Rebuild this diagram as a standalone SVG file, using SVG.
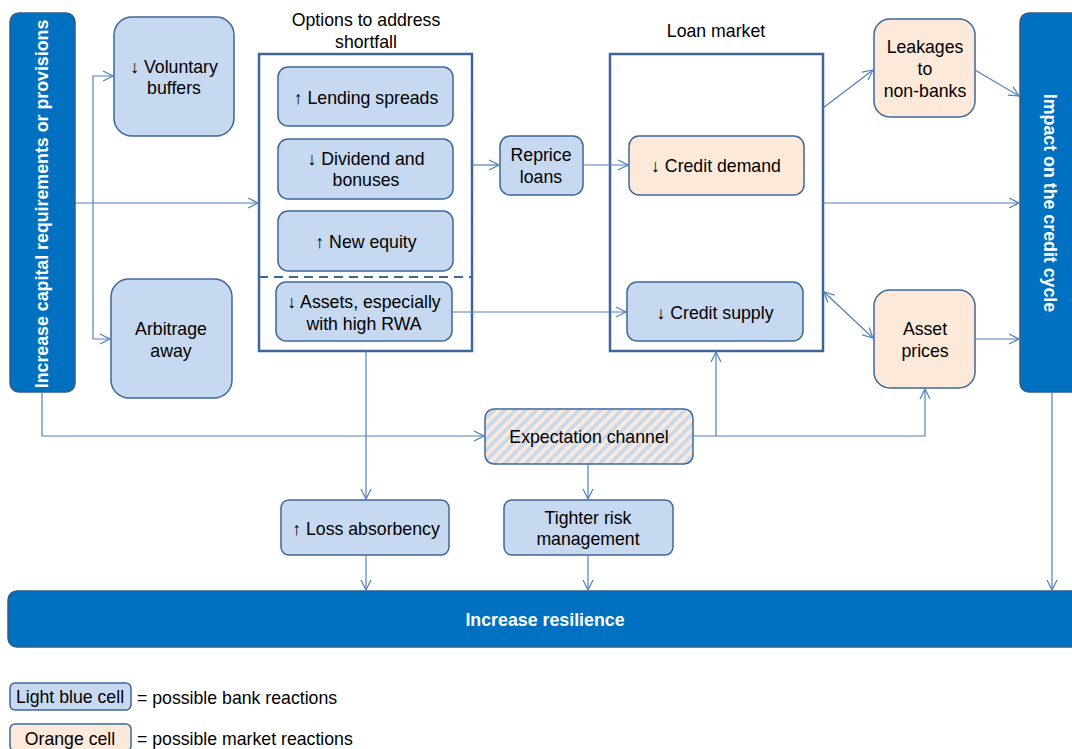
<svg xmlns="http://www.w3.org/2000/svg" width="1072" height="749" viewBox="0 0 1072 749">
<defs>
<marker id="ah" viewBox="0 0 12 12" refX="11" refY="6" markerWidth="12" markerHeight="12" markerUnits="userSpaceOnUse" orient="auto-start-reverse">
<path d="M1,1 L11,6 L1,11" fill="none" stroke="#4F81BD" stroke-width="1.2"/>
</marker>
<pattern id="hatch" patternUnits="userSpaceOnUse" width="7.5" height="7.5" patternTransform="rotate(45)">
<rect width="7.5" height="7.5" fill="#FDE9D9"/>
<rect width="3.6" height="7.5" fill="#C5D9F1"/>
</pattern>
<style>
.blue{fill:#C6D9F0;stroke:#3E6797;stroke-width:1.5}
.orange{fill:#FDE9D9;stroke:#3E6797;stroke-width:1.5}
.frame{fill:#fff;stroke:#3E6797;stroke-width:2.5}
.dark{fill:#0070C0;stroke:#2F5D8C;stroke-width:1.5}
.t{font-family:"Liberation Sans",Arial,sans-serif;font-size:17.7px;fill:#000;text-anchor:middle}
.w{font-family:"Liberation Sans",Arial,sans-serif;font-size:17.8px;font-weight:bold;fill:#fff;text-anchor:middle}
.c{fill:none;stroke:#4F81BD;stroke-width:1.2}
.l{font-family:"Liberation Sans",Arial,sans-serif;font-size:17.7px;fill:#000}
</style>
</defs>

<g id="left-bar"><rect class="dark" x="10" y="13" width="65" height="379" rx="9"/>
<text class="w" transform="translate(48,204) rotate(-90)">Increase capital requirements or provisions</text></g>

<g id="voluntary"><rect class="blue" x="114" y="17" width="120" height="119" rx="18"/>
<text class="t" x="174" y="73">↓ Voluntary</text><text class="t" x="174" y="94">buffers</text></g>

<g id="arbitrage"><rect class="blue" x="111" y="279" width="121" height="119" rx="18"/>
<text class="t" x="171" y="335">Arbitrage</text><text class="t" x="171" y="357">away</text></g>

<g id="options">
<text class="t" x="366" y="26">Options to address</text><text class="t" x="366" y="48">shortfall</text>
<rect class="frame" x="259" y="54" width="213" height="297"/>
<line x1="259" y1="277" x2="472" y2="277" stroke="#3E6797" stroke-width="2" stroke-dasharray="9,6"/>
</g>
<g id="lending"><rect class="blue" x="278" y="67" width="175" height="59" rx="10"/><text class="t" x="366" y="104">↑ Lending spreads</text></g>
<g id="dividend"><rect class="blue" x="278" y="139" width="175" height="60" rx="10"/><text class="t" x="366" y="165">↓ Dividend and</text><text class="t" x="366" y="186">bonuses</text></g>
<g id="equity"><rect class="blue" x="278" y="211" width="175" height="60" rx="10"/><text class="t" x="366" y="248">↑ New equity</text></g>
<g id="assets"><rect class="blue" x="276" y="282" width="176" height="59" rx="10"/><text class="t" x="364" y="308">↓ Assets, especially</text><text class="t" x="364" y="330">with high RWA</text></g>

<g id="reprice"><rect class="blue" x="500" y="136" width="83" height="59" rx="10"/><text class="t" x="541" y="161">Reprice</text><text class="t" x="541" y="183">loans</text></g>

<g id="loan-market">
<text class="t" x="716" y="37">Loan market</text>
<rect class="frame" x="610" y="54" width="213" height="297"/>
</g>
<g id="credit-demand"><rect class="orange" x="629" y="136" width="175" height="59" rx="10"/><text class="t" x="716" y="172">↓ Credit demand</text></g>
<g id="credit-supply"><rect class="blue" x="627" y="282" width="176" height="59" rx="10"/><text class="t" x="715" y="319">↓ Credit supply</text></g>

<g id="leakages"><rect class="orange" x="874" y="19" width="101" height="98" rx="16"/>
<text class="t" x="925" y="53">Leakages</text><text class="t" x="925" y="75">to</text><text class="t" x="925" y="97">non-banks</text></g>
<g id="asset-prices"><rect class="orange" x="874" y="290" width="101" height="98" rx="16"/>
<text class="t" x="925" y="335">Asset</text><text class="t" x="925" y="357">prices</text></g>

<g id="right-bar"><rect class="dark" x="1020" y="13" width="62" height="379" rx="9"/>
<text class="w" transform="translate(1044,203) rotate(90)">Impact on the credit cycle</text></g>

<g id="expectation"><rect x="485" y="409" width="208" height="55" rx="9" fill="url(#hatch)" stroke="#3E6797" stroke-width="1.5"/>
<text class="t" x="589" y="443">Expectation channel</text></g>

<g id="loss"><rect class="blue" x="281" y="500" width="168" height="55" rx="8"/><text class="t" x="366" y="535">↑ Loss absorbency</text></g>
<g id="tighter"><rect class="blue" x="504" y="500" width="169" height="55" rx="8"/><text class="t" x="588" y="524">Tighter risk</text><text class="t" x="588" y="545">management</text></g>

<g id="resilience"><rect class="dark" x="8" y="591" width="1074" height="56" rx="9"/>
<text class="w" x="545" y="626">Increase resilience</text></g>

<g id="connectors">
<path class="c" d="M75,203 H258" marker-end="url(#ah)"/>
<path class="c" d="M93,203 V76 H113" marker-end="url(#ah)"/>
<path class="c" d="M93,203 V339 H110" marker-end="url(#ah)"/>
<path class="c" d="M472,165 H499" marker-end="url(#ah)"/>
<path class="c" d="M583,165 H628" marker-end="url(#ah)"/>
<path class="c" d="M452,312 H626" marker-end="url(#ah)"/>
<path class="c" d="M823,108 L873,70" marker-end="url(#ah)"/>
<path class="c" d="M975,70 L1019,96" marker-end="url(#ah)"/>
<path class="c" d="M823,203 H1019" marker-end="url(#ah)"/>
<path class="c" d="M824,292 L873,338" marker-start="url(#ah)" marker-end="url(#ah)"/>
<path class="c" d="M975,339 H1019" marker-end="url(#ah)"/>
<path class="c" d="M42,392 V436 H484" marker-end="url(#ah)"/>
<path class="c" d="M693,436 H925 V389" marker-end="url(#ah)"/>
<path class="c" d="M716,436 V352" marker-end="url(#ah)"/>
<path class="c" d="M588,464 V499" marker-end="url(#ah)"/>
<path class="c" d="M366,351 V499" marker-end="url(#ah)"/>
<path class="c" d="M366,555 V590" marker-end="url(#ah)"/>
<path class="c" d="M588,555 V590" marker-end="url(#ah)"/>
<path class="c" d="M1052,392 V590" marker-end="url(#ah)"/>
</g>

<g id="legend">
<rect class="blue" x="10" y="683" width="121" height="27" rx="5"/>
<text class="t" x="70" y="703">Light blue cell</text>
<text class="l" x="137" y="704">= possible bank reactions</text>
<rect class="orange" x="10" y="724" width="121" height="27" rx="5"/>
<text class="t" x="70" y="745">Orange cell</text>
<text class="l" x="137" y="745">= possible market reactions</text>
</g>
</svg>
